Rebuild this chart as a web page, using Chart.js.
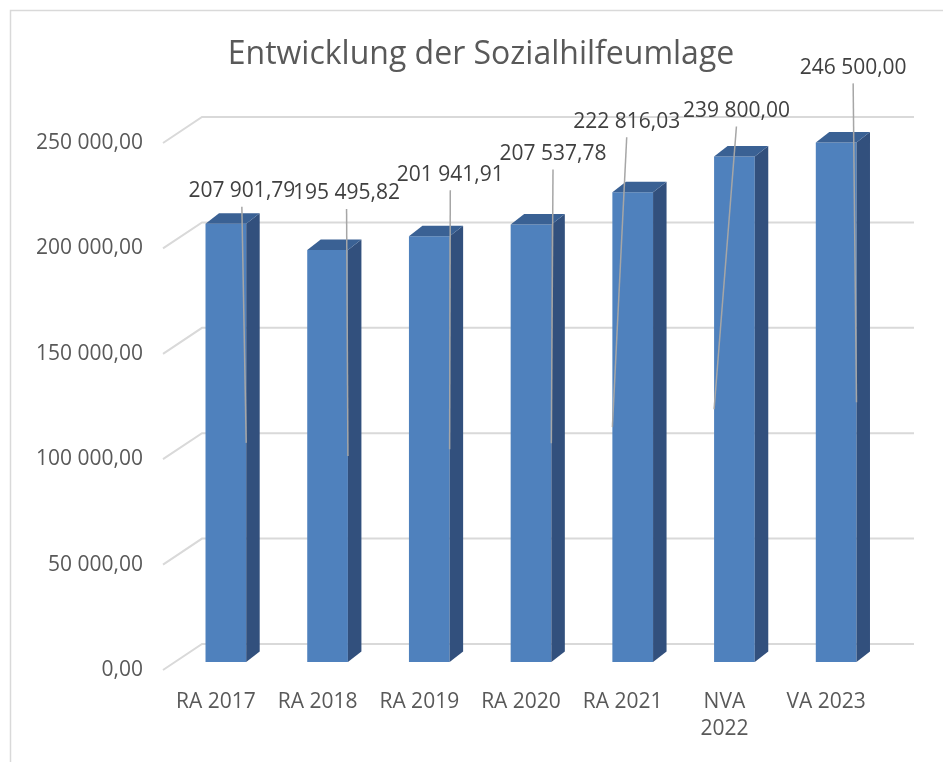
<!DOCTYPE html>
<html>
<head>
<meta charset="utf-8">
<script src="https://cdn.jsdelivr.net/npm/chart.js@4.4.0/dist/chart.umd.min.js"></script>
<style>
  html, body { margin: 0; padding: 0; background: #ffffff; }
  #wrap { position: relative; width: 943px; height: 762px; }
</style>
</head>
<body>
<div id="wrap"><canvas id="c"></canvas></div>
<script>
// ---- data ----
const categories = ["RA 2017", "RA 2018", "RA 2019", "RA 2020", "RA 2021", ["NVA", "2022"], "VA 2023"];
const values = [207901.79, 195495.82, 201941.91, 207537.78, 222816.03, 239800.00, 246500.00];
const yMin = 0;
const yMax = 250000;
const yStep = 50000;
const chartTitle = "Entwicklung der Sozialhilfeumlage";

// ---- layout / style (not data) ----
const labelOffsets = [
  { dx: 26, dy: -42 }, { dx: 29, dy: -66 }, { dx: 31, dy: -71 }, { dx: 32, dy: -80 },
  { dx: 4, dy: -80 }, { dx: 12, dy: -55 }, { dx: 27, dy: -84 }
];
const leaderSide = ["right", "right", "right", "right", "left", "left", "right"];
const BAR_PLANE = { dx: 10, dy: -8 };
const BACK_PLANE = { dx: 37, dy: -26 };
const BAR_DEPTH = { dx: 13.5, dy: -10.5 };
const COL_FRONT = "#4F81BD";
const COL_SIDE = "#32507D";
const COL_TOP = "#3A6194";
const GRID = "#D9D9D9";
const TEXT = "#595959";
const LABEL_TEXT = "#404040";
const FONT = "'Open Sans', 'Noto Sans', sans-serif";

function fmt(v) {
  const parts = v.toFixed(2).split(".");
  return parts[0].replace(/\B(?=(\d{3})+(?!\d))/g, " ") + "," + parts[1];
}

const frameAndTitle = {
  id: "frameAndTitle",
  beforeDraw(chart) {
    const { ctx, width, height } = chart;
    ctx.save();
    ctx.strokeStyle = GRID;
    ctx.lineWidth = 1.5;
    ctx.beginPath();
    ctx.moveTo(width, 10.5);
    ctx.lineTo(10.5, 10.5);
    ctx.lineTo(10.5, height);
    ctx.stroke();
    ctx.fillStyle = TEXT;
    ctx.font = "32px " + FONT;
    ctx.textAlign = "center";
    ctx.textBaseline = "alphabetic";
    ctx.fillText(chartTitle, width / 2 + 9.5, 64);
    ctx.restore();
  }
};

const depth3d = {
  id: "depth3d",
  beforeDatasetsDraw(chart) {
    const { ctx, chartArea, scales } = chart;
    const y = scales.y;
    ctx.save();
    ctx.strokeStyle = GRID;
    ctx.lineWidth = 2;
    y.ticks.forEach(t => {
      const py = y.getPixelForValue(t.value);
      ctx.beginPath();
      ctx.moveTo(chartArea.left - 2, py);
      ctx.lineTo(chartArea.left + BACK_PLANE.dx, py + BACK_PLANE.dy);
      ctx.lineTo(chartArea.right + BACK_PLANE.dx, py + BACK_PLANE.dy);
      ctx.stroke();
    });
    ctx.restore();
    ctx.save();
    ctx.translate(BAR_PLANE.dx, BAR_PLANE.dy);
  },
  afterDatasetsDraw(chart) {
    const { ctx } = chart;
    const meta = chart.getDatasetMeta(0);
    meta.data.forEach(bar => {
      const p = bar.getProps(["x", "y", "base", "width"], true);
      const l = p.x - p.width / 2, r = p.x + p.width / 2;
      ctx.fillStyle = COL_SIDE;
      ctx.beginPath();
      ctx.moveTo(r, p.y);
      ctx.lineTo(r + BAR_DEPTH.dx, p.y + BAR_DEPTH.dy);
      ctx.lineTo(r + BAR_DEPTH.dx, p.base + BAR_DEPTH.dy);
      ctx.lineTo(r, p.base);
      ctx.closePath();
      ctx.fill();
      ctx.fillStyle = COL_TOP;
      ctx.beginPath();
      ctx.moveTo(l, p.y);
      ctx.lineTo(l + BAR_DEPTH.dx, p.y + BAR_DEPTH.dy);
      ctx.lineTo(r + BAR_DEPTH.dx, p.y + BAR_DEPTH.dy);
      ctx.lineTo(r, p.y);
      ctx.closePath();
      ctx.fill();
    });
    ctx.restore();

    // leader lines + labels
    ctx.save();
    meta.data.forEach((bar, i) => {
      const p = bar.getProps(["x", "y", "base", "width"], true);
      const off = labelOffsets[i];
      const lx = p.x + off.dx, ly = p.y + off.dy;
      const ax = p.x + BAR_PLANE.dx + (leaderSide[i] === "left" ? -p.width / 2 : p.width / 2);
      const ay = (p.y + p.base) / 2 + BAR_PLANE.dy;
      ctx.strokeStyle = "#A6A6A6";
      ctx.lineWidth = 1.5;
      ctx.beginPath();
      ctx.moveTo(lx, ly + 17);
      ctx.lineTo(ax, ay);
      ctx.stroke();
      ctx.fillStyle = LABEL_TEXT;
      ctx.font = "21px " + FONT;
      ctx.textAlign = "center";
      ctx.textBaseline = "alphabetic";
      ctx.fillText(fmt(values[i]), lx, ly + 7.5);
    });
    ctx.restore();
  }
};

new Chart(document.getElementById("c"), {
  type: "bar",
  data: {
    labels: categories,
    datasets: [{
      data: values,
      backgroundColor: COL_FRONT,
      borderWidth: 0,
      categoryPercentage: 0.4,
      barPercentage: 1.0,
      clip: false
    }]
  },
  options: {
    responsive: true,
    maintainAspectRatio: false,
    animation: false,
    layout: { padding: { top: 143, right: 66, bottom: 0, left: 0 } },
    plugins: {
      legend: { display: false },
      title: { display: false },
      tooltip: { enabled: false }
    },
    scales: {
      x: {
        grid: { display: false, drawTicks: false },
        border: { display: false },
        ticks: {
          color: TEXT,
          font: { family: FONT, size: 21, lineHeight: 1.3 },
          padding: 18,
          maxRotation: 0,
          autoSkip: false
        },
        afterFit(scale) { scale.height = 92; }
      },
      y: {
        min: yMin,
        max: yMax,
        grid: { display: false, drawTicks: false },
        border: { display: false },
        ticks: {
          stepSize: yStep,
          color: TEXT,
          font: { family: FONT, size: 21 },
          padding: 22,
          callback: v => fmt(v)
        },
        afterFit(scale) { scale.width = 165; }
      }
    }
  },
  plugins: [frameAndTitle, depth3d]
});
</script>
</body>
</html>
